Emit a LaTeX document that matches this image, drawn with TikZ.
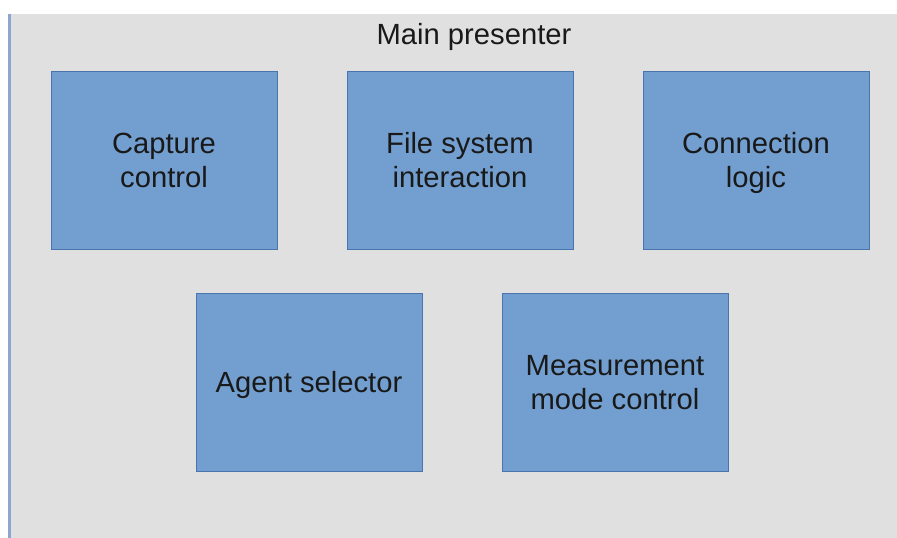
\documentclass[tikz,border=0pt]{standalone}
\usepackage{fontspec}
\setmainfont{Liberation Sans}
\definecolor{bgray}{HTML}{E0E0E0}
\definecolor{boxfill}{HTML}{729FCF}
\definecolor{boxline}{HTML}{4A74AE}
\definecolor{edgeline}{HTML}{8DA6CC}
\newcommand\topstrut{\rule{0pt}{31.8pt}}
\begin{document}
\begin{tikzpicture}[x=1pt,y=-1pt,
  blk/.style={draw=boxline, line width=1pt, fill=boxfill, minimum width=226pt, minimum height=178pt, inner sep=0pt, align=center, font=\fontsize{29.2}{34}\selectfont, text=black!90},
  ttl/.style={font=\fontsize{29.2}{34}\selectfont, text=black!90, inner sep=0pt, anchor=base}]
\useasboundingbox (0,0) rectangle (897,538);
\fill[bgray] (8,14) rectangle (897,538);
\draw[edgeline, line width=2.6pt] (9.3,14) -- (9.3,538);
\node[ttl] (title) at (474,44) {Main presenter};
\node[blk] (cap) at (164,160) {\topstrut Capture\\\strut control};
\node[blk] (fs) at (460,160) {\topstrut File system\\\strut interaction};
\node[blk] (conn) at (756,160) {\topstrut Connection\\\strut logic};
\node[blk] (agent) at (309,382) {\topstrut Agent selector\strut};
\node[blk] (meas) at (615,382) {\topstrut Measurement\\\strut mode control};
\end{tikzpicture}
\end{document}
